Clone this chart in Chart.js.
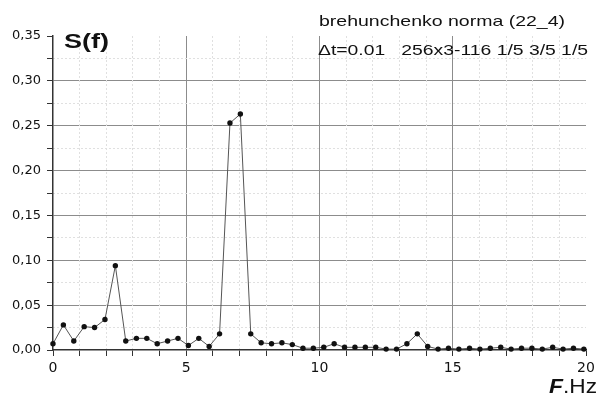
<!DOCTYPE html>
<html lang="en">
<head>
<meta charset="UTF-8">
<title>S(f) spectrum</title>
<script src="https://cdn.jsdelivr.net/npm/chart.js@4.4.0/dist/chart.umd.min.js"></script>
<style>
  html, body { margin: 0; padding: 0; background: #fff; }
  #wrap { width: 601px; height: 396px; }
</style>
</head>
<body>
<div id="wrap"><canvas id="spectrum" width="601" height="396"></canvas></div>
<script>
// frequency bins (Hz), step is about 0.39 Hz
const freqs = [0.00, 0.39, 0.78, 1.17, 1.56, 1.95, 2.34, 2.73, 3.13, 3.52,
               3.91, 4.30, 4.69, 5.08, 5.47, 5.86, 6.25, 6.64, 7.03, 7.42,
               7.81, 8.20, 8.59, 8.98, 9.38, 9.77, 10.16, 10.55, 10.94, 11.33,
               11.72, 12.11, 12.50, 12.89, 13.28, 13.67, 14.06, 14.45, 14.84, 15.23,
               15.63, 16.02, 16.41, 16.80, 17.19, 17.58, 17.97, 18.36, 18.75, 19.14,
               19.53, 19.92];
// S(f) values
const amps = [0.007, 0.028, 0.010, 0.026, 0.025, 0.034, 0.094, 0.010, 0.013, 0.013,
              0.007, 0.010, 0.013, 0.005, 0.013, 0.004, 0.018, 0.253, 0.263, 0.018,
              0.008, 0.007, 0.008, 0.006, 0.002, 0.002, 0.003, 0.007, 0.003, 0.003,
              0.003, 0.003, 0.001, 0.001, 0.007, 0.018, 0.004, 0.001, 0.002, 0.001,
              0.002, 0.001, 0.002, 0.003, 0.001, 0.002, 0.002, 0.001, 0.003, 0.001,
              0.002, 0.001];

const xMajor = [0, 5, 10, 15, 20];
const xLabels = ['0', '5', '10', '15', '20'];
const yMajor = [0, 0.05, 0.10, 0.15, 0.20, 0.25, 0.30, 0.35];
const yLabels = ['0,00', '0,05', '0,10', '0,15', '0,20', '0,25', '0,30', '0,35'];

const majorIdx = (list, v) => list.findIndex(m => Math.abs(m - v) < 1e-6);

const points = freqs.map((f, i) => ({ x: f, y: amps[i] }));

// titles and axis captions
const captions = {
  id: 'captions',
  afterDraw(chart) {
    const ctx = chart.ctx;
    function put(text, font, left, midY, width) {
      ctx.save();
      ctx.font = font;
      ctx.fillStyle = '#111';
      ctx.textBaseline = 'middle';
      const w = ctx.measureText(text).width;
      ctx.translate(left, midY);
      ctx.scale(width / w, 1);
      ctx.fillText(text, 0, 0);
      ctx.restore();
    }
    put('S(f)', 'bold 21px "Liberation Sans"', 64, 42, 45);
    put('brehunchenko norma (22_4)', '15px "Liberation Sans"', 319, 22, 246);
    put('\u0394t=0.01   256x3-116 1/5 3/5 1/5', '15px "Liberation Sans"', 318, 51, 270);
    put('F', 'italic bold 20px "Liberation Sans"', 549, 387, 14);
    put('.Hz', '20px "Liberation Sans"', 563, 387, 34);
  }
};

const tickFont = { family: '"DejaVu Sans"', size: 13 };

new Chart(document.getElementById('spectrum'), {
  type: 'line',
  data: {
    datasets: [{
      data: points,
      borderColor: '#555',
      borderWidth: 1,
      pointRadius: 2.7,
      pointBackgroundColor: '#111',
      pointBorderWidth: 0,
      tension: 0,
      clip: false
    }]
  },
  options: {
    responsive: false,
    animation: false,
    devicePixelRatio: 1,
    layout: { padding: { top: 36, right: 15, left: 0, bottom: 0 } },
    plugins: { legend: { display: false }, tooltip: { enabled: false } },
    scales: {
      x: {
        type: 'linear',
        min: 0,
        max: 20,
        afterFit: s => { s.height = 46; },
        ticks: {
          stepSize: 1,
          autoSkip: false,
          maxRotation: 0,
          padding: 4,
          color: '#111',
          font: { family: '"DejaVu Sans"', size: 14 },
          callback: v => { const i = majorIdx(xMajor, v); return i >= 0 ? xLabels[i] : ''; }
        },
        grid: {
          color: c => {
            const v = c.tick ? c.tick.value : 0;
            return (majorIdx(xMajor, v) >= 0 && v > 0 && v < 20) ? '#8c8c8c' : 'rgba(0,0,0,0)';
          },
          lineWidth: 1,
          tickColor: '#333',
          tickLength: 6
        },
        border: { color: '#333', width: 1.5 }
      },
      y: {
        type: 'linear',
        min: 0,
        max: 0.35,
        afterFit: s => { s.width = 53; },
        ticks: {
          stepSize: 0.025,
          autoSkip: false,
          padding: 6,
          color: '#111',
          font: tickFont,
          callback: v => { const i = majorIdx(yMajor, v); return i >= 0 ? yLabels[i] : ''; }
        },
        grid: {
          color: c => {
            const v = c.tick ? c.tick.value : 0;
            return (majorIdx(yMajor, v) >= 0 && v > 0.001 && v < 0.349) ? '#8c8c8c' : 'rgba(0,0,0,0)';
          },
          lineWidth: 1,
          tickColor: '#333',
          tickLength: 6
        },
        border: { color: '#333', width: 1.5 }
      },
      // faint dotted minor grid
      xMinor: {
        type: 'linear',
        position: 'top',
        min: 0,
        max: 20,
        afterFit: s => { s.height = 0; },
        ticks: { display: false, stepSize: 1, autoSkip: false },
        grid: {
          drawTicks: false,
          color: c => {
            const v = c.tick ? c.tick.value : 0;
            return majorIdx(xMajor, v) >= 0 ? 'rgba(0,0,0,0)' : '#e0e0e0';
          }
        },
        border: { display: false, dash: [2, 2] }
      },
      yMinor: {
        type: 'linear',
        position: 'right',
        min: 0,
        max: 0.35,
        afterFit: s => { s.width = 0; },
        ticks: { display: false, stepSize: 0.025, autoSkip: false },
        grid: {
          drawTicks: false,
          color: c => {
            const v = c.tick ? c.tick.value : 0;
            return majorIdx(yMajor, v) >= 0 ? 'rgba(0,0,0,0)' : '#e0e0e0';
          }
        },
        border: { display: false, dash: [2, 2] }
      }
    }
  },
  plugins: [captions]
});
</script>
</body>
</html>
